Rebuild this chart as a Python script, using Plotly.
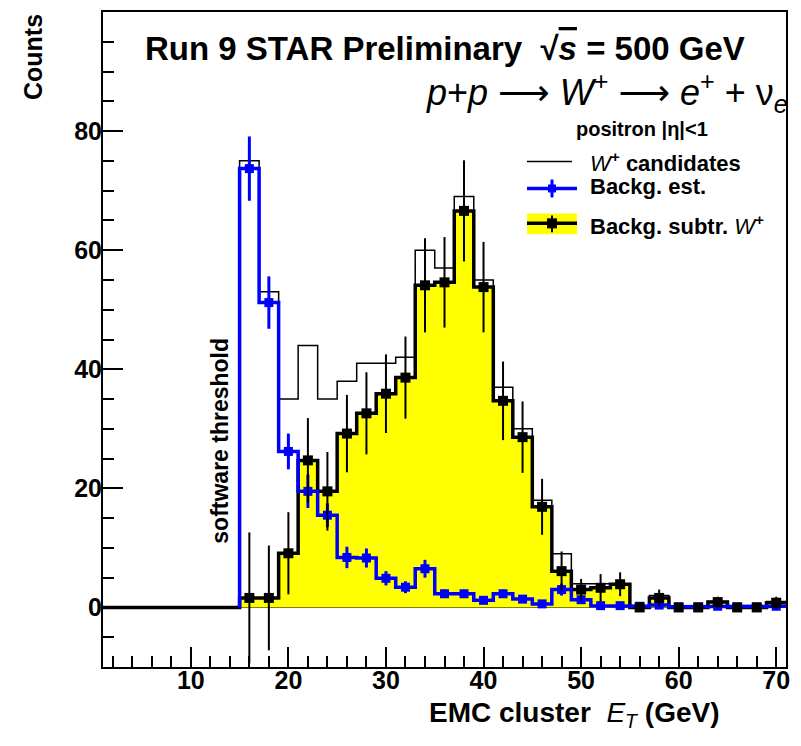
import plotly.graph_objects as go

# ---------------- data ----------------
bin_width = 2.0
bin_centers = [2, 4, 6, 8, 10, 12, 14,
               16, 18, 20, 22, 24, 26, 28, 30, 32, 34, 36, 38, 40, 42,
               44, 46, 48, 50, 52, 54, 56, 58, 60, 62, 64, 66, 68, 70]

# W+ candidates (thin black histogram)
candidates = [0, 0, 0, 0, 0, 0, 0,
              75, 53, 35, 44, 35, 38, 41, 41, 42, 60, 57, 69, 55, 37,
              30, 18, 9, 4, 4, 4, 0, 2, 0, 0, 1, 0, 0, 1]

# Background estimate (blue)
bkg = [0, 0, 0, 0, 0, 0, 0,
       73.7, 51.2, 26.2, 19.5, 15.5, 8.4, 8.3, 4.9, 3.4, 6.5, 2.3, 2.3, 1.2, 2.3,
       1.4, 0.6, 3.0, 1.3, 0.3, 0.3, 0.2, 0.4, 0.1, 0.1, 0.2, 0.1, 0.1, 0.2]
bkg_err = [0, 0, 0, 0, 0, 0, 0,
           5.4, 4.4, 3.0, 2.8, 2.0, 1.8, 1.6, 1.2, 1.0, 1.5, 0.7, 0.7, 0.6, 0.7,
           0.6, 0.5, 1.0, 0.6, 0.4, 0.4, 0.4, 0.4, 0.4, 0.4, 0.4, 0.4, 0.4, 0.4]

# Background subtracted W+ (yellow)
subtr = [0, 0, 0, 0, 0, 0, 0,
         1.6, 1.6, 9.1, 24.7, 19.5, 29.2, 32.6, 35.9, 38.6, 54.1, 54.6, 66.6, 53.8, 34.7,
         28.6, 16.9, 6.1, 3.0, 3.3, 3.9, 0, 1.6, 0, 0, 0.9, 0, 0, 0.8]
subtr_err = [0, 0, 0, 0, 0, 0, 0,
             11.0, 8.8, 6.9, 7.1, 6.6, 6.5, 6.9, 6.6, 6.9, 7.9, 7.6, 8.5, 7.6, 6.6,
             6.0, 4.7, 3.3, 1.8, 2.3, 2.0, 0, 1.4, 0, 0, 0.9, 0, 0, 1.0]

x_range = [1, 71]
y_range = [-10, 100]
threshold_et = 15  # software threshold (first filled bin edge)

# ---------------- helpers ----------------
W, H = 801, 746
L, R, T, B = 103, 786, 10, 667


def px(x):
    return (x - L) / (R - L)


def py(y):
    return (B - y) / (B - T)


def step_path(centers, values, start_index=0):
    xs, ys = [], []
    lo0 = centers[start_index] - bin_width / 2
    xs.append(lo0)
    ys.append(0)
    for c, v in zip(centers[start_index:], values[start_index:]):
        lo, hi = c - bin_width / 2, c + bin_width / 2
        xs += [lo, hi]
        ys += [v, v]
    return xs, ys


first_filled = next(i for i, c in enumerate(bin_centers) if c - bin_width / 2 >= threshold_et)

fig = go.Figure()

# yellow background-subtracted histogram with thick outline
sx, sy = step_path(bin_centers, subtr, 0)
fig.add_trace(go.Scatter(x=sx, y=sy, mode="lines", fill="tozeroy",
                         fillcolor="#ffff00", line=dict(color="black", width=3.5),
                         showlegend=False, hoverinfo="skip"))

# W+ candidates thin line
cx, cy = step_path(bin_centers, candidates, first_filled)
fig.add_trace(go.Scatter(x=cx, y=cy, mode="lines",
                         line=dict(color="black", width=1.5),
                         showlegend=False, hoverinfo="skip"))

# background estimate blue line
bx, by = step_path(bin_centers, bkg, first_filled)
fig.add_trace(go.Scatter(x=bx, y=by, mode="lines",
                         line=dict(color="#0000ff", width=3.5),
                         showlegend=False, hoverinfo="skip"))

# blue markers + errors
fig.add_trace(go.Scatter(x=bin_centers[first_filled:], y=bkg[first_filled:], mode="markers",
                         marker=dict(symbol="square", size=9, color="#0000ff"),
                         error_y=dict(type="data", array=bkg_err[first_filled:],
                                      color="#0000ff", thickness=3, width=0),
                         showlegend=False, hoverinfo="skip"))

# black markers + errors
fig.add_trace(go.Scatter(x=bin_centers[first_filled:], y=subtr[first_filled:], mode="markers",
                         marker=dict(symbol="square", size=10, color="black"),
                         error_y=dict(type="data", array=subtr_err[first_filled:],
                                      color="black", thickness=2, width=0),
                         showlegend=False, hoverinfo="skip"))

FONT = "Liberation Sans, Arial, sans-serif"

axis_common = dict(
    showline=True, linecolor="black", linewidth=2, mirror=True,
    ticks="inside", tickcolor="black", tickwidth=1.5, ticklen=20,
    showgrid=False,
    tickfont=dict(family=FONT, size=25, color="black", weight="bold"),
)

fig.update_layout(
    width=W, height=H,
    margin=dict(l=L, r=W - R, t=T, b=H - B),
    paper_bgcolor="white", plot_bgcolor="white",
    xaxis=dict(range=x_range, tick0=0, dtick=10, zeroline=False,
               minor=dict(dtick=2, ticklen=11, ticks="inside", tickcolor="black", tickwidth=1.5),
               ticklabelstandoff=-10,
               **axis_common),
    yaxis=dict(range=y_range, tick0=0, dtick=20, zeroline=True, zerolinecolor="black",
               zerolinewidth=1.5,
               minor=dict(dtick=5, ticklen=11, ticks="inside", tickcolor="black", tickwidth=1.5),
               ticklabelstandoff=-6,
               **axis_common),
)

ARROW = "<span style='font-family:DejaVu Sans'>⟶</span>"

ann = []
ann.append(dict(text="<b>Run 9 STAR Preliminary  √<span style='text-decoration:overline'><i>s</i></span> = 500 GeV</b>",
                x=px(143), y=py(47), xanchor="left", yanchor="middle",
                font=dict(family=FONT, size=33, color="black")))
ann.append(dict(text=f"<i>p</i>+<i>p</i> {ARROW} <i>W</i><sup>+</sup> {ARROW} <i>e</i><sup>+</sup> + ν<sub><i>e</i></sub>",
                x=px(790), y=py(91), xanchor="right", yanchor="middle",
                font=dict(family=FONT, size=36, color="black")))
ann.append(dict(text="<b>positron |η|&lt;1</b>",
                x=px(642), y=py(127), xanchor="center", yanchor="middle",
                font=dict(family=FONT, size=20, color="black")))
ann.append(dict(text="<i>W</i><sup><b>+</b></sup><b> candidates</b>",
                x=px(588), y=py(160), xanchor="left", yanchor="middle",
                font=dict(family=FONT, size=22, color="black")))
ann.append(dict(text="<b>Backg. est.</b>",
                x=px(588), y=py(185), xanchor="left", yanchor="middle",
                font=dict(family=FONT, size=22, color="black")))
ann.append(dict(text="<b>Backg. subtr. </b><i>W</i><sup><b>+</b></sup>",
                x=px(588), y=py(224), xanchor="left", yanchor="middle",
                font=dict(family=FONT, size=22, color="black")))
ann.append(dict(text="<b>software threshold</b>", textangle=-90,
                x=px(220), y=py(440), xanchor="center", yanchor="middle",
                font=dict(family=FONT, size=23, color="black")))
ann.append(dict(text="<b>Counts</b>", textangle=-90,
                x=px(33), y=py(10), xanchor="center", yanchor="top",
                font=dict(family=FONT, size=25, color="black")))
ann.append(dict(text="<b>EMC cluster  </b><i>E</i><sub><i>T</i></sub><b> (GeV)</b>",
                x=px(722), y=py(715), xanchor="right", yanchor="middle",
                font=dict(family=FONT, size=28, color="black")))
for a in ann:
    a.update(xref="paper", yref="paper", showarrow=False)
fig.update_layout(annotations=ann)

# manual legend keys
shapes = []
shapes.append(dict(type="line", x0=px(527), x1=px(572), y0=py(160), y1=py(160),
                   line=dict(color="black", width=1.5)))
shapes.append(dict(type="line", x0=px(527), x1=px(577), y0=py(187), y1=py(187),
                   line=dict(color="#0000ff", width=3.5)))
shapes.append(dict(type="line", x0=px(552), x1=px(552), y0=py(178), y1=py(196),
                   line=dict(color="#0000ff", width=3)))
shapes.append(dict(type="rect", x0=px(548), x1=px(556), y0=py(183), y1=py(191),
                   fillcolor="#0000ff", line=dict(width=0)))
shapes.append(dict(type="rect", x0=px(527), x1=px(577), y0=py(212), y1=py(233),
                   fillcolor="#ffff00", line=dict(width=0)))
shapes.append(dict(type="line", x0=px(527), x1=px(577), y0=py(222), y1=py(222),
                   line=dict(color="black", width=3.5)))
shapes.append(dict(type="line", x0=px(552), x1=px(552), y0=py(214), y1=py(231),
                   line=dict(color="black", width=2)))
shapes.append(dict(type="rect", x0=px(547), x1=px(557), y0=py(217), y1=py(227),
                   fillcolor="black", line=dict(width=0)))
for s in shapes:
    s.update(xref="paper", yref="paper")
fig.update_layout(shapes=shapes)

fig.write_html("out.html")
